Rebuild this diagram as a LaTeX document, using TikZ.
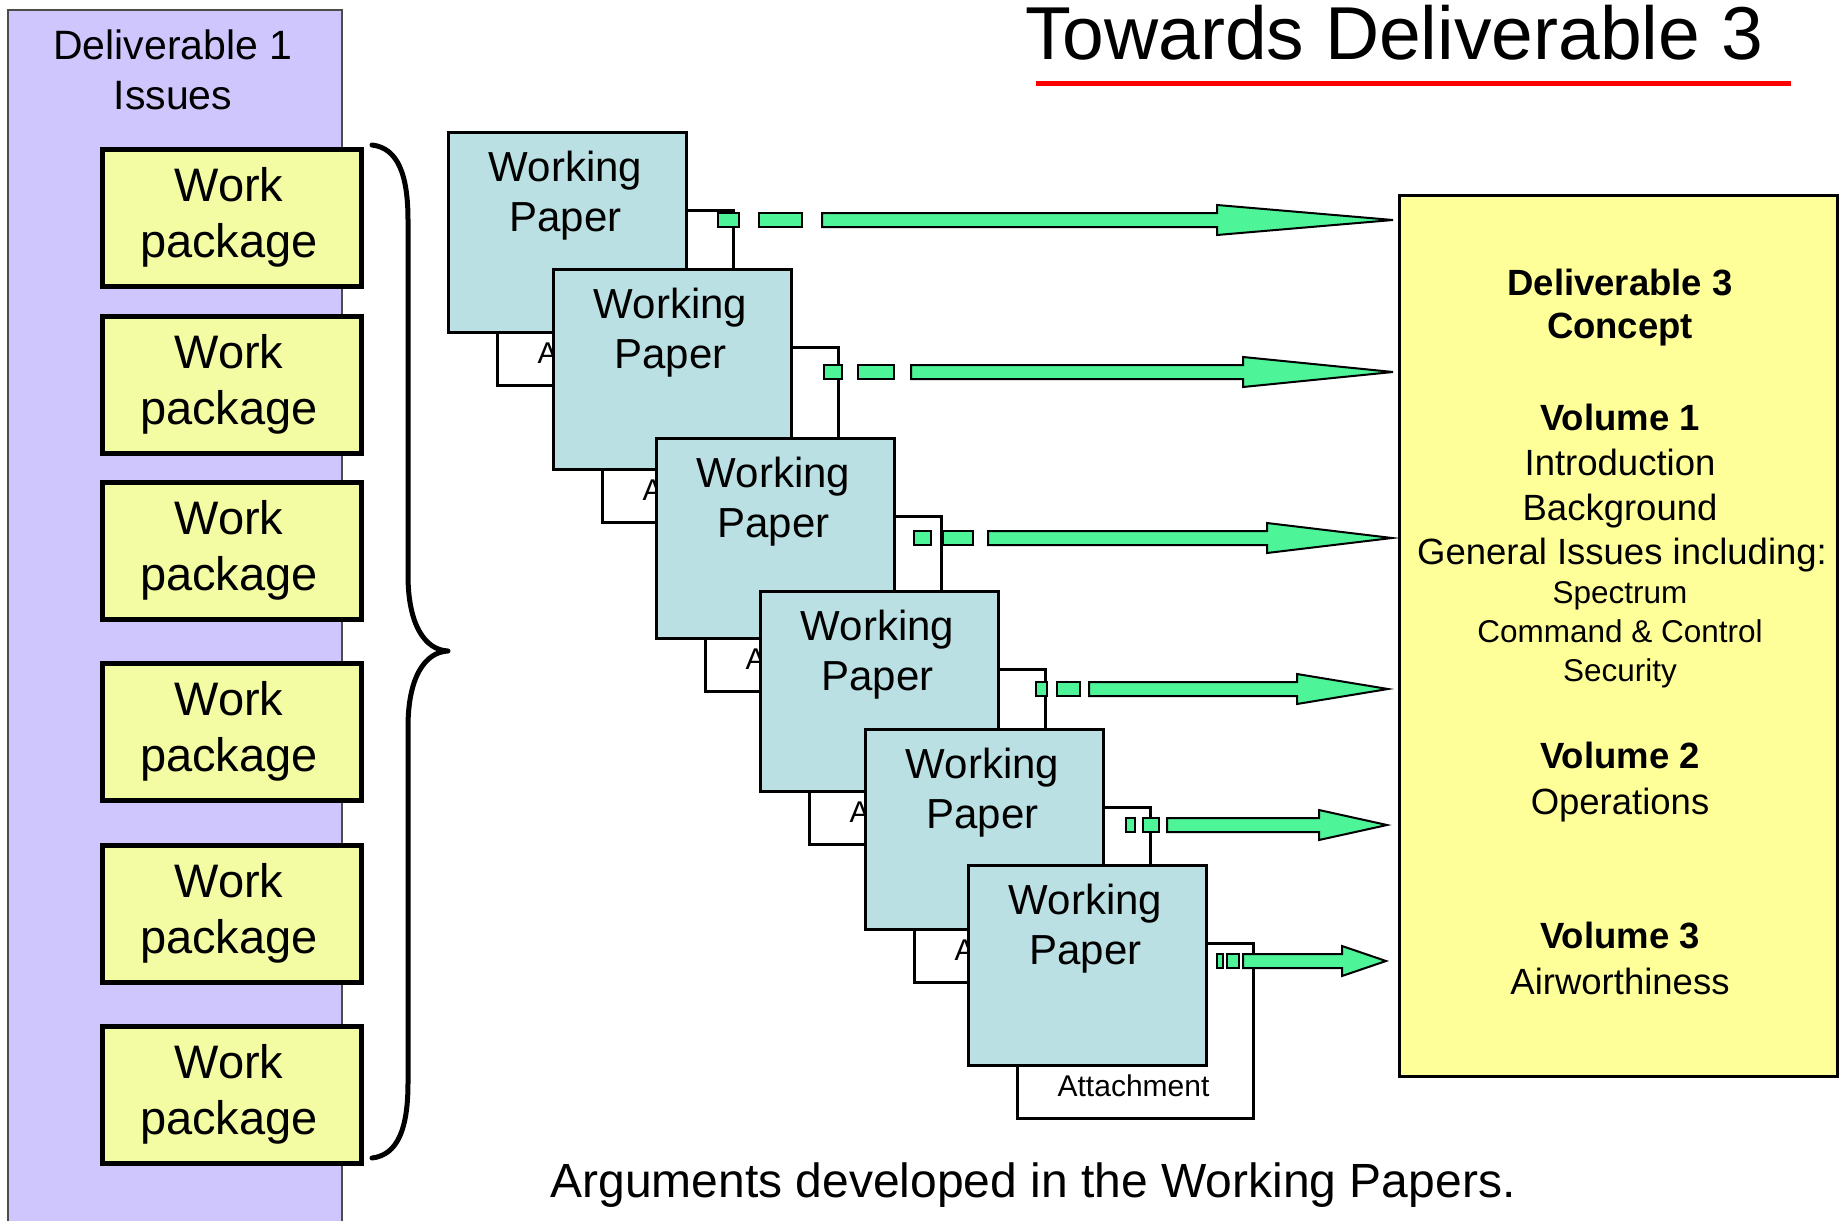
\documentclass[tikz,border=0pt]{standalone}
\usepackage{fontspec}
\setmainfont{Liberation Sans}
\usetikzlibrary{calc}

\definecolor{panelpurple}{RGB}{207,198,253}
\definecolor{pkgyellow}{RGB}{243,251,163}
\definecolor{wpblue}{RGB}{186,224,227}
\definecolor{delyellow}{RGB}{255,255,153}
\definecolor{arrowgreen}{RGB}{78,244,152}

% font size helper (single-line labels)
\newcommand{\fsz}[1]{\fontsize{#1}{#1}\selectfont}

% green dashed block arrow: a short piece and a full shaft with head
\newcommand{\greenpiece}[3]{\draw[arrowpart] (#2,{#1-7}) rectangle (#3,{#1+7});}
\newcommand{\greenshaft}[4]{\draw[arrowpart] (#2,{#1-7}) -- (#3,{#1-7}) -- (#3,{#1-15}) -- (#4,#1) -- (#3,{#1+15}) -- (#3,{#1+7}) -- (#2,{#1+7}) -- cycle;}

\begin{document}
\begin{tikzpicture}[x=0.5pt,y=-0.5pt,
  panel/.style={draw=black!70, line width=0.85pt, fill=panelpurple,
    minimum width=167pt, minimum height=610.5pt, inner sep=0pt, anchor=north west},
  pkg/.style={draw=black, line width=2.5pt, fill=pkgyellow,
    minimum width=129.5pt, minimum height=68.5pt, inner sep=0pt, anchor=north west},
  pkgtxt/.style={anchor=base, inner sep=0pt, font=\fsz{23.5pt}},
  headtxt/.style={anchor=base, inner sep=0pt, font=\fsz{20.5pt}},
  wpbox/.style={draw=black, line width=1.65pt, fill=wpblue,
    minimum width=119pt, minimum height=100pt, inner sep=0pt, anchor=north west},
  wptxt/.style={anchor=base, inner sep=0pt, font=\fsz{21pt}},
  attbox/.style={draw=black, line width=1.5pt, fill=white,
    minimum width=118pt, minimum height=87.5pt, inner sep=0pt, anchor=north west},
  atttxt/.style={anchor=base, inner sep=0pt, font=\fsz{15pt}},
  arrowpart/.style={draw=black, line width=1pt, fill=arrowgreen, line join=miter},
  delbox/.style={draw=black, line width=1.3pt, fill=delyellow,
    minimum width=219pt, minimum height=440.5pt, inner sep=0pt, anchor=north west},
  dbold/.style={anchor=base, inner sep=0pt, font=\fsz{18.25pt}\bfseries},
  dreg/.style={anchor=base, inner sep=0pt, font=\fsz{18.25pt}},
  dsmall/.style={anchor=base, inner sep=0pt, font=\fsz{15.75pt}}]

\useasboundingbox (0,0) rectangle (1845,1220);
\fill[white] (0,0) rectangle (1845,1220);

% left column: Deliverable 1 issues
\node[panel] (issues) at (7,9) {};
\node[headtxt] (issuesA) at (173,60) {Deliverable 1};
\node[headtxt] (issuesB) at (173,110) {Issues};

\foreach \i/\t in {1/144,2/311,3/477,4/658,5/840,6/1021}{
  \node[pkg] (pk\i) at (99.5,{\t+2.5}) {};
  \node[pkgtxt] (pkw\i) at (229,{\t+57}) {Work};
  \node[pkgtxt] (pkp\i) at (229,{\t+113}) {package};
}

% brace gathering the work packages
\draw[line width=2.5pt, line cap=round, line join=round]
  (372,145) .. controls (398,148) and (408,175) .. (408,220)
  -- (408,575) .. controls (408,625) and (425,650) .. (448,651)
  .. controls (425,652) and (408,677) .. (408,727)
  -- (408,1083) .. controls (408,1128) and (398,1155) .. (372,1158);

% stack of working papers, each with an attachment behind it
\foreach \i/\x/\y in {1/445/129,2/550/266,3/653/435,4/757/588,5/862/726,6/965/862}{
  \node[attbox] (att\i) at ({\x+50.5},{\y+79.5}) {};
  \node[atttxt] (attl\i) at ({\x+168.5},{\y+234}) {Attachment};
  \node[wpbox] (wp\i) at ({\x+1.6},{\y+1.6}) {};
  \node[wptxt] (wpw\i) at ({\x+120.5},{\y+52}) {Working};
  \node[wptxt] (wpp\i) at ({\x+120.5},{\y+102}) {Paper};
}

% Deliverable 3 concept
\node[delbox] (d3) at (1398.3,194.3) {};
\node[dbold]  (d3a) at (1620,295) {Deliverable 3};
\node[dbold]  (d3b) at (1620,338) {Concept};
\node[dbold]  (d3c) at (1620,430) {Volume 1};
\node[dreg]   (d3d) at (1620,475) {Introduction};
\node[dreg]   (d3e) at (1620,520) {Background};
\node[dreg]   (d3f) at (1622,564) {General Issues including:};
\node[dsmall] (d3g) at (1620,603) {Spectrum};
\node[dsmall] (d3h) at (1620,642) {Command \& Control};
\node[dsmall] (d3i) at (1620,681) {Security};
\node[dbold]  (d3j) at (1620,768) {Volume 2};
\node[dreg]   (d3k) at (1620,814) {Operations};
\node[dbold]  (d3l) at (1620,948) {Volume 3};
\node[dreg]   (d3m) at (1620,994) {Airworthiness};

% arrows from the attachments into the deliverable
\foreach \y/\a/\b/\c/\d/\s/\h/\t in {
  220/718/739/759/802/822/1217/1393,
  372/824/842/858/894/911/1243/1393,
  538/914/931/943/973/988/1267/1392,
  689/1036/1047/1057/1080/1089/1297/1388,
  825/1126/1135/1143/1159/1167/1319/1387,
  961/1217/1223/1227/1239/1243/1342/1386}{
  \greenpiece{\y}{\a}{\b}
  \greenpiece{\y}{\c}{\d}
  \greenshaft{\y}{\s}{\h}{\t}
}

% title and caption
\node[anchor=base, inner sep=0pt, font=\fsz{37.5pt}] (title) at (1394,60) {Towards Deliverable 3};
\draw[red, line width=2.5pt] (1036,84) -- (1791,84);
\node[anchor=base, inner sep=0pt, font=\fsz{24pt}] (caption) at (1033,1197) {Arguments developed in the Working Papers.};

\end{tikzpicture}
\end{document}
